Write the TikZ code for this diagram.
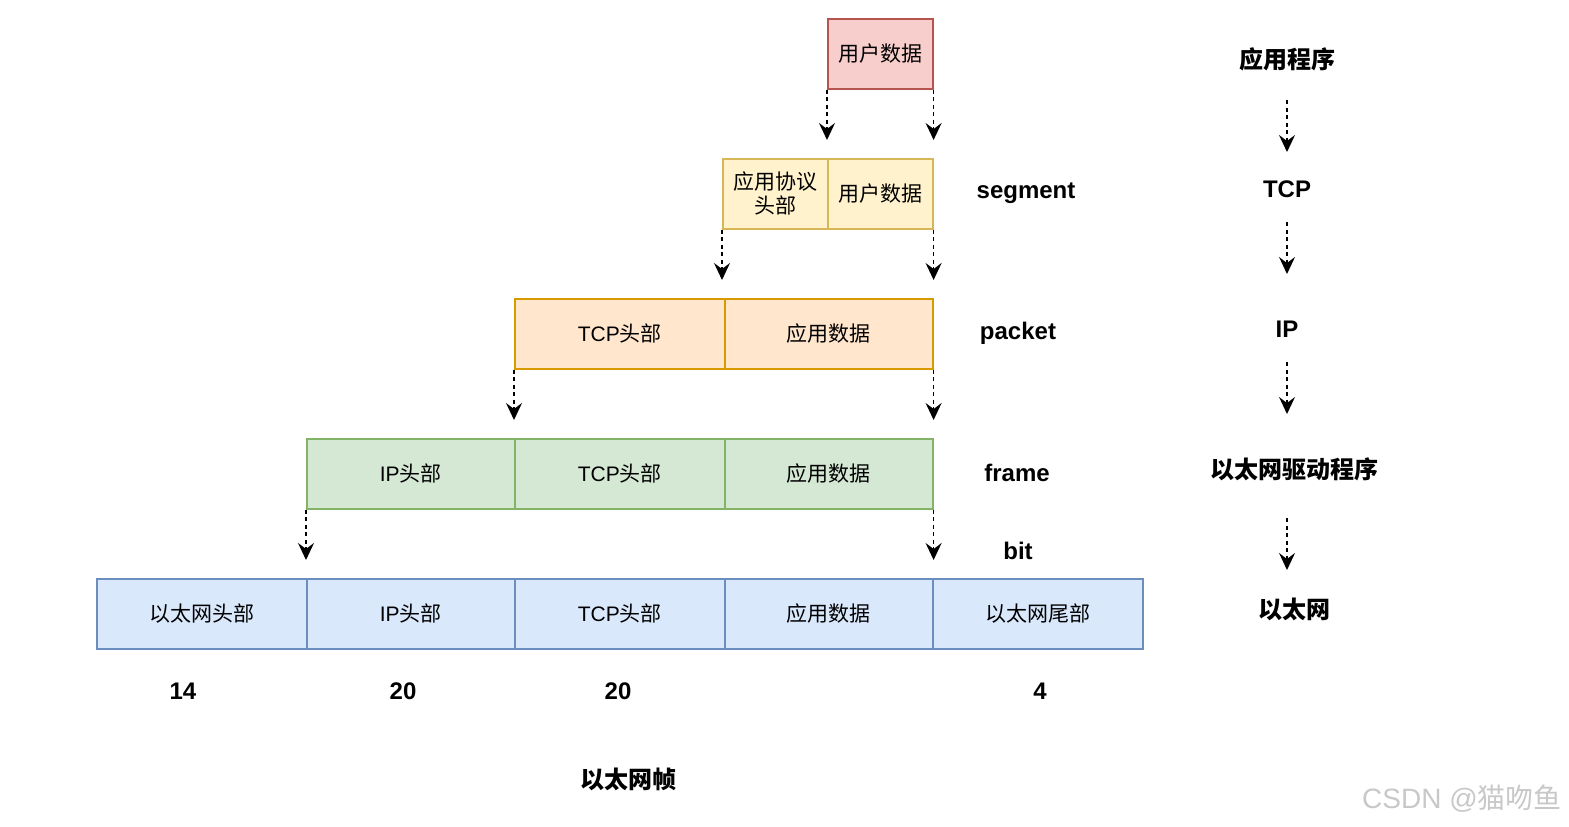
\documentclass[tikz,border=0pt]{standalone}
\usepackage{fontspec}
\setmainfont{Liberation Sans}
\newfontfamily\cjk{Noto Sans CJK SC}
\usetikzlibrary{arrows.meta}
\definecolor{rfill}{HTML}{F8CECC}\definecolor{rdraw}{HTML}{B85450}
\definecolor{yfill}{HTML}{FFF2CC}\definecolor{ydraw}{HTML}{D6B656}
\definecolor{ofill}{HTML}{FFE6CC}\definecolor{odraw}{HTML}{D79B00}
\definecolor{gfill}{HTML}{D5E8D4}\definecolor{gdraw}{HTML}{82B366}
\definecolor{bfill}{HTML}{DAE8FC}\definecolor{bdraw}{HTML}{6C8EBF}
\definecolor{wmark}{HTML}{C8C8C8}
\begin{document}
\begin{tikzpicture}[x=1pt,y=-1pt,
  cell/.style={draw, line width=1.6pt, anchor=north west, minimum height=70pt, inner sep=0pt, align=center,
    font=\fontsize{21}{25}\selectfont},
  redc/.style={cell, fill=rfill, draw=rdraw},
  yelc/.style={cell, fill=yfill, draw=ydraw},
  orac/.style={cell, fill=ofill, draw=odraw},
  grnc/.style={cell, fill=gfill, draw=gdraw},
  bluc/.style={cell, fill=bfill, draw=bdraw},
  lbl/.style={inner sep=0pt, font=\fontsize{24}{28}\selectfont\bfseries},
  arr/.style={line width=1.6pt, dash pattern=on 4pt off 3.5pt, -{Stealth[length=17pt,width=16pt,inset=6pt,fill=black]}},
  arrs/.style={arr, shorten >=18pt}]
\useasboundingbox (0,0) rectangle (1569,827);

% rows
\node[redc, minimum width=105pt] (u0) at (827,18) {\cjk 用户数据};

\node[yelc, minimum width=105pt, font=\fontsize{21}{24}\selectfont\cjk] (s1) at (722,158) {应用协议\\头部};
\node[yelc, minimum width=105pt] (s2) at (827,158) {\cjk 用户数据};

\node[orac, minimum width=210pt] (p1) at (514,298) {TCP{\cjk 头部}};
\node[orac, minimum width=208pt] (p2) at (724,298) {\cjk 应用数据};

\node[grnc, minimum width=208pt] (f1) at (306,438) {IP{\cjk 头部}};
\node[grnc, minimum width=210pt] (f2) at (514,438) {TCP{\cjk 头部}};
\node[grnc, minimum width=208pt] (f3) at (724,438) {\cjk 应用数据};

\node[bluc, minimum width=210pt] (e1) at (96,578) {\cjk 以太网头部};
\node[bluc, minimum width=208pt] (e2) at (306,578) {IP{\cjk 头部}};
\node[bluc, minimum width=210pt] (e3) at (514,578) {TCP{\cjk 头部}};
\node[bluc, minimum width=208pt] (e4) at (724,578) {\cjk 应用数据};
\node[bluc, minimum width=210pt] (e5) at (932,578) {\cjk 以太网尾部};

% arrows between rows
\draw[arrs] (u0.south west) -- (u0.south west |- s1.north);
\draw[arrs] (u0.south east) -- (u0.south east |- s2.north);
\draw[arrs] (s1.south west) -- (s1.south west |- p1.north);
\draw[arrs] (s2.south east) -- (s2.south east |- p2.north);
\draw[arrs] (p1.south west) -- (p1.south west |- f1.north);
\draw[arrs] (p2.south east) -- (p2.south east |- f3.north);
\draw[arrs] (f1.south west) -- (f1.south west |- e2.north);
\draw[arrs] (f3.south east) -- (f3.south east |- e4.north);

% middle labels
\node[lbl] (lseg) at (1026,193) {segment};
\node[lbl] (lpkt) at (1018,333) {packet};
\node[lbl] (lfrm) at (1017,473) {frame};
\node[lbl] (lbit) at (1018,551) {bit};

% right column
\node[lbl, font=\fontsize{24}{28}\selectfont\cjk\bfseries] (app) at (1287,59) {应用程序};
\node[lbl] (tcp) at (1287,189) {TCP};
\node[lbl] (ip) at (1287,329) {IP};
\node[lbl, font=\fontsize{24}{28}\selectfont\cjk\bfseries] (drv) at (1294,469) {以太网驱动程序};
\node[lbl, font=\fontsize{24}{28}\selectfont\cjk\bfseries] (eth) at (1294,609) {以太网};

\draw[arr] ([yshift=-41pt]app.center) -- ([yshift=37pt]tcp.center);
\draw[arr] ([yshift=-33pt]tcp.center) -- ([yshift=55pt]ip.center);
\draw[arr] ([yshift=-33pt]ip.center) -- ([xshift=-7pt,yshift=55pt]drv.center);
\draw[arr] ([xshift=-7pt,yshift=-49pt]drv.center) -- ([xshift=-7pt,yshift=39pt]eth.center);

% sizes
\node[lbl] (n1) at (183,691) {14};
\node[lbl] (n2) at (403,691) {20};
\node[lbl] (n3) at (618,691) {20};
\node[lbl] (n4) at (1040,691) {4};

\node[lbl, font=\fontsize{24}{28}\selectfont\cjk\bfseries] (title) at (628,779) {以太网帧};

% watermark
\node[inner sep=0pt, text=wmark, font=\fontsize{28}{32}\selectfont] (wm) at (1462,799) {CSDN @{\cjk 猫吻鱼}};
\end{tikzpicture}
\end{document}
